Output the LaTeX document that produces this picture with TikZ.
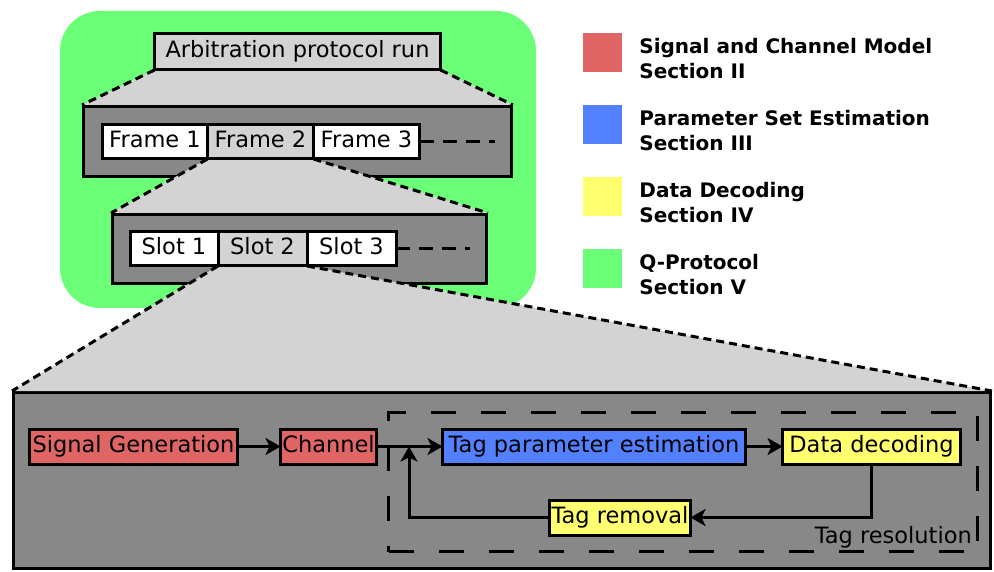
\documentclass[tikz,border=0pt]{standalone}
\usepackage{fontspec}
\setmainfont{DejaVu Sans}
\usepackage{tikz}
\usepackage{xcolor}
\usetikzlibrary{shapes,arrows,arrows.meta,positioning}
\definecolor{protogreen}{RGB}{107, 255, 119}
\definecolor{modelred}{RGB}{224, 102, 102}
\definecolor{estblue}{RGB}{82, 128, 255}
\definecolor{decyellow}{RGB}{255, 255, 112}
\definecolor{holdergray}{RGB}{136, 136, 136}
\definecolor{zoomgray}{RGB}{211, 211, 211}
\newcommand{\blockfont}{\fontsize{22.5}{27}\selectfont}
\newcommand{\legendfont}{\fontsize{20}{25}\selectfont\bfseries}
\pgfdeclarelayer{bg}
\pgfdeclarelayer{mid}
\pgfsetlayers{bg,mid,main}
\tikzstyle{arrow} = [
    line width=3pt,
    -{Stealth[length=15pt, width=17pt, inset=4pt]},
    draw=black
]
\tikzstyle{block} = [
    rectangle,
    draw=black,
    line width=3pt,
    outer sep=0pt,
    inner sep=0pt,
    minimum height=35,
    text height=17pt,
    text depth=5.5pt,
    text centered,
    font=\blockfont
]
\tikzstyle{holder} = [
    rectangle,
    draw=black,
    line width=3pt,
    fill=holdergray
]
\tikzstyle{zoomfill} = [
    fill=zoomgray
]
\tikzstyle{zoomedge} = [
    line width=3pt,
    dash pattern=on 8pt off 5pt
]
\tikzstyle{moredash} = [
    line width=3pt,
    dash pattern=on 14pt off 9pt
]
\tikzstyle{legendbox} = [
    rectangle,
    minimum size=39,
    inner sep=0pt
]
\tikzstyle{legendtext} = [
    anchor=west,
    align=left,
    inner sep=0pt,
    font=\legendfont
]

\begin{document}
\begin{tikzpicture}[x=1pt, y=-1pt]
    \useasboundingbox (0,0) rectangle (994,572);
    \begin{pgfonlayer}{bg}
        \fill[protogreen, rounded corners=40pt] (60,11) rectangle (536,308);
        \node[holder, minimum width=428, minimum height=70] (frames) at (297.5,141.5) {};
        \node[holder, minimum width=374, minimum height=69] (slots) at (299.5,249) {};
        \node[holder, minimum width=977, minimum height=176] (flow) at (502,480.5) {};
    \end{pgfonlayer}

    \node[block, fill=zoomgray, minimum width=286, minimum height=36] (run) at (297.5,52) {Arbitration protocol run};

    \node[block, fill=white, minimum width=105, minimum height=34] (frame1) at (155,142) {Frame 1};
    \node[block, fill=zoomgray, minimum width=106, minimum height=34, right=0pt of frame1] (frame2) {Frame 2};
    \node[block, fill=white, minimum width=106, minimum height=34, right=0pt of frame2] (frame3) {Frame 3};
    \coordinate (frameend) at (495,142);
    \draw[moredash] (frame3) -- (frameend);

    \node[block, fill=white, minimum width=88, minimum height=34] (slot1) at (174,249) {Slot 1};
    \node[block, fill=zoomgray, minimum width=89, minimum height=34, right=0pt of slot1] (slot2) {Slot 2};
    \node[block, fill=white, minimum width=89, minimum height=34, right=0pt of slot2] (slot3) {Slot 3};
    \coordinate (slotend) at (470,249);
    \draw[moredash] (slot3) -- (slotend);

    \node[draw, line width=3pt, dash pattern=on 25pt off 25pt, minimum width=589, minimum height=139] (resolution) at (683,482) {};
    \node[font=\blockfont, inner sep=0pt, anchor=base east] (reslabel) at ([shift={(-7,-10)}]resolution.south east) {Tag resolution};

    \node[block, fill=modelred, minimum width=208] (siggen) at (133.5,446.5) {Signal Generation};
    \node[block, fill=modelred, minimum width=96, right=43pt of siggen] (channel) {Channel};
    \node[block, fill=estblue, minimum width=303, right=66pt of channel] (tagest) {Tag parameter estimation};
    \node[block, fill=decyellow, minimum width=178, right=37pt of tagest] (decode) {Data decoding};
    \node[block, fill=decyellow, minimum width=141] (removal) at (620,517.5) {Tag removal};
    \coordinate (merge) at (409,446.5);

    \draw[arrow] (siggen) -- (channel);
    \draw[arrow] (channel) -- (tagest);
    \draw[arrow] (tagest) -- (decode);
    \draw[arrow] (decode.south) |- (removal.east);
    \draw[arrow] (removal.west) -| (merge);

    \begin{pgfonlayer}{mid}
        \fill[zoomfill] (run.south west) -- (run.south east) -- (frames.north east) -- (frames.north west) -- cycle;
        \draw[zoomedge] (run.south west) -- (frames.north west);
        \draw[zoomedge] (run.south east) -- (frames.north east);
        \fill[zoomfill] (frame2.south west) -- (frame2.south east) -- (slots.north east) -- (slots.north west) -- cycle;
        \draw[zoomedge] (frame2.south west) -- (slots.north west);
        \draw[zoomedge] (frame2.south east) -- (slots.north east);
        \fill[zoomfill] (slot2.south west) -- (slot2.south east) -- (flow.north east) -- (flow.north west) -- cycle;
        \draw[zoomedge] (slot2.south west) -- (flow.north west);
        \draw[zoomedge] (slot2.south east) -- (flow.north east);
    \end{pgfonlayer}

    \node[legendbox, fill=modelred] (keymodel) at (602.5,52.5) {};
    \node[legendbox, fill=estblue, below=32.5pt of keymodel] (keyest) {};
    \node[legendbox, fill=decyellow, below=32.5pt of keyest] (keydecode) {};
    \node[legendbox, fill=protogreen, below=32.5pt of keydecode] (keyproto) {};
    \node[legendtext, right=17pt of keymodel, yshift=-6.5pt] (txtmodel) {Signal and Channel Model\\Section II};
    \node[legendtext, right=17pt of keyest, yshift=-6.5pt] (txtest) {Parameter Set Estimation\\Section III};
    \node[legendtext, right=17pt of keydecode, yshift=-6.5pt] (txtdecode) {Data Decoding\\Section IV};
    \node[legendtext, right=17pt of keyproto, yshift=-6.5pt] (txtproto) {Q-Protocol\\Section V};
\end{tikzpicture}
\end{document}
